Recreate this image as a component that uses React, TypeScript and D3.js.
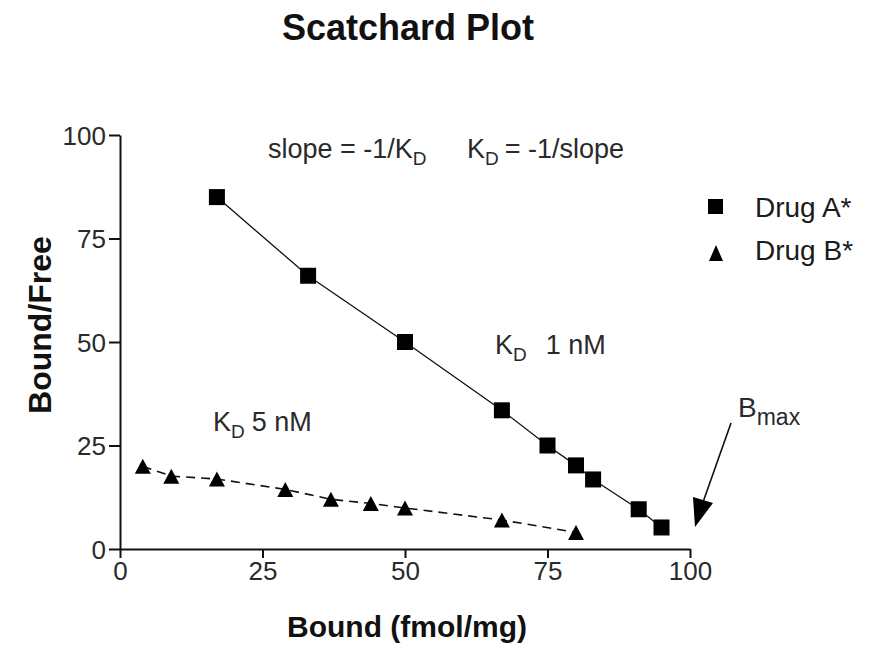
import React, { useEffect, useRef } from "react";
import * as d3 from "d3";

// Drug A* (squares, solid line)
const drugAx = [17, 33, 50, 67, 75, 80, 83, 91, 95];
const drugAy = [85, 66, 50, 33.5, 25, 20.2, 16.8, 9.6, 5.2];
// Drug B* (triangles, dashed line)
const drugBx = [4, 9, 17, 29, 37, 44, 50, 67, 80];
const drugBy = [20, 17.6, 16.9, 14.4, 12, 11, 9.9, 7, 4];

const xTicks = [0, 25, 50, 75, 100];
const yTicks = [0, 25, 50, 75, 100];
const seriesNames = ["Drug A*", "Drug B*"];

const FONT = "'Liberation Sans', Arial, Helvetica, sans-serif";

type Part = { t: string; sub?: boolean; dx?: number };

export default function App() {
  const svgRef = useRef<SVGSVGElement>(null);

  useEffect(() => {
    const svg = d3.select(svgRef.current);
    svg.selectAll("*").remove();

    const x = d3.scaleLinear().domain([0, 100]).range([120, 690]);
    const y = d3.scaleLinear().domain([0, 100]).range([549, 135]);

    svg
      .append("rect")
      .attr("width", 877)
      .attr("height", 653)
      .attr("fill", "#fff");

    // --- TITLE ---
    svg
      .append("text")
      .attr("x", 408)
      .attr("y", 40)
      .attr("text-anchor", "middle")
      .style("font-family", FONT)
      .style("font-weight", "bold")
      .style("font-size", "36px")
      .style("fill", "#111")
      .text("Scatchard Plot");

    // --- AXES ---
    const xAxis = d3
      .axisBottom(x)
      .tickValues(xTicks)
      .tickSize(9)
      .tickPadding(4)
      .tickSizeOuter(0);
    const gx = svg
      .append("g")
      .attr("transform", `translate(0,${y(0)})`)
      .call(xAxis);

    const yAxis = d3
      .axisLeft(y)
      .tickValues(yTicks)
      .tickSize(11)
      .tickPadding(3)
      .tickSizeOuter(0);
    const gy = svg
      .append("g")
      .attr("transform", `translate(${x(0)},0)`)
      .call(yAxis);

    [gx, gy].forEach((g) => {
      g.select(".domain").attr("stroke", "#111").attr("stroke-width", 2);
      g.selectAll(".tick line").attr("stroke", "#111").attr("stroke-width", 2);
      g.selectAll(".tick text")
        .style("font-family", FONT)
        .style("font-size", "26px")
        .attr("fill", "#2a2a2a");
    });
    gy.selectAll(".tick text").attr("dy", "0.36em");

    // axis titles
    svg
      .append("text")
      .attr("x", 407)
      .attr("y", 637)
      .attr("text-anchor", "middle")
      .style("font-family", FONT)
      .style("font-weight", "bold")
      .style("font-size", "30px")
      .style("fill", "#111")
      .text("Bound (fmol/mg)");

    svg
      .append("text")
      .attr("transform", "translate(51,325) rotate(-90)")
      .attr("text-anchor", "middle")
      .style("font-family", FONT)
      .style("font-weight", "bold")
      .style("font-size", "32px")
      .style("fill", "#111")
      .text("Bound/Free");

    // --- LINES ---
    const ptsA = drugAx.map((v, i) => [v, drugAy[i]] as [number, number]);
    const ptsB = drugBx.map((v, i) => [v, drugBy[i]] as [number, number]);
    const line = d3
      .line<[number, number]>()
      .x((d) => x(d[0]))
      .y((d) => y(d[1]));

    svg
      .append("path")
      .attr("d", line(ptsA))
      .attr("fill", "none")
      .attr("stroke", "#111")
      .attr("stroke-width", 1.3);

    svg
      .append("path")
      .attr("d", line(ptsB))
      .attr("fill", "none")
      .attr("stroke", "#111")
      .attr("stroke-width", 1.6)
      .attr("stroke-dasharray", "9 6");

    // --- MARKERS ---
    const sq = 16;
    svg
      .append("g")
      .selectAll("rect")
      .data(ptsA)
      .join("rect")
      .attr("x", (d) => x(d[0]) - sq / 2)
      .attr("y", (d) => y(d[1]) - sq / 2)
      .attr("width", sq)
      .attr("height", sq)
      .attr("fill", "#000");

    const tri = (cx: number, cy: number, w: number, h: number) =>
      `M${cx},${cy - h / 2}L${cx + w / 2},${cy + h / 2}L${cx - w / 2},${cy + h / 2}Z`;

    svg
      .append("g")
      .selectAll("path")
      .data(ptsB)
      .join("path")
      .attr("d", (d) => tri(x(d[0]), y(d[1]), 16, 15))
      .attr("fill", "#000");

    // --- LEGEND ---
    const legend = svg.append("g").attr("transform", "translate(716,0)");
    legend
      .append("rect")
      .attr("x", -8)
      .attr("y", 199)
      .attr("width", 15)
      .attr("height", 15)
      .attr("fill", "#000");
    legend.append("path").attr("d", tri(0, 253, 14, 16)).attr("fill", "#000");
    seriesNames.forEach((name, i) => {
      legend
        .append("text")
        .attr("x", 39)
        .attr("y", 217 + i * 43)
        .style("font-family", FONT)
        .style("font-size", "28px")
        .style("fill", "#1a1a1a")
        .text(name);
    });

    // --- ANNOTATIONS ---
    const subText = (
      px: number,
      py: number,
      size: number,
      subSize: number,
      drop: number,
      parts: Part[]
    ) => {
      const t = svg
        .append("text")
        .attr("x", px)
        .attr("y", py)
        .style("font-family", FONT)
        .style("font-size", `${size}px`)
        .style("fill", "#2a2a2a");
      let lowered = false;
      parts.forEach((p) => {
        const s = t.append("tspan").text(p.t);
        if (p.dx) s.attr("dx", p.dx);
        if (p.sub) {
          s.style("font-size", `${subSize}px`).attr("dy", drop);
          lowered = true;
        } else if (lowered) {
          s.attr("dy", -drop);
          lowered = false;
        }
      });
    };

    subText(268, 158, 27, 19, 7, [{ t: "slope = -1/K" }, { t: "D", sub: true }]);
    subText(467, 158, 27, 19, 7, [{ t: "K" }, { t: "D", sub: true }, { t: "= -1/slope", dx: 6 }]);
    subText(495, 354, 27, 19, 7, [{ t: "K" }, { t: "D", sub: true }, { t: "1 nM", dx: 19 }]);
    subText(213, 431, 27, 19, 7, [{ t: "K" }, { t: "D", sub: true }, { t: "5 nM", dx: 7 }]);
    subText(738, 417, 28, 23, 8, [{ t: "B" }, { t: "max", sub: true }]);

    // B_max arrow
    svg
      .append("line")
      .attr("x1", 731)
      .attr("y1", 423)
      .attr("x2", 702)
      .attr("y2", 505)
      .attr("stroke", "#111")
      .attr("stroke-width", 1.6);
    svg
      .append("path")
      .attr("d", "M693,497L713,503L695,527Z")
      .attr("fill", "#000");
  }, []);

  return (
    <svg
      ref={svgRef}
      width={877}
      height={653}
      style={{ position: "absolute", left: 0, top: 0, display: "block" }}
    />
  );
}
